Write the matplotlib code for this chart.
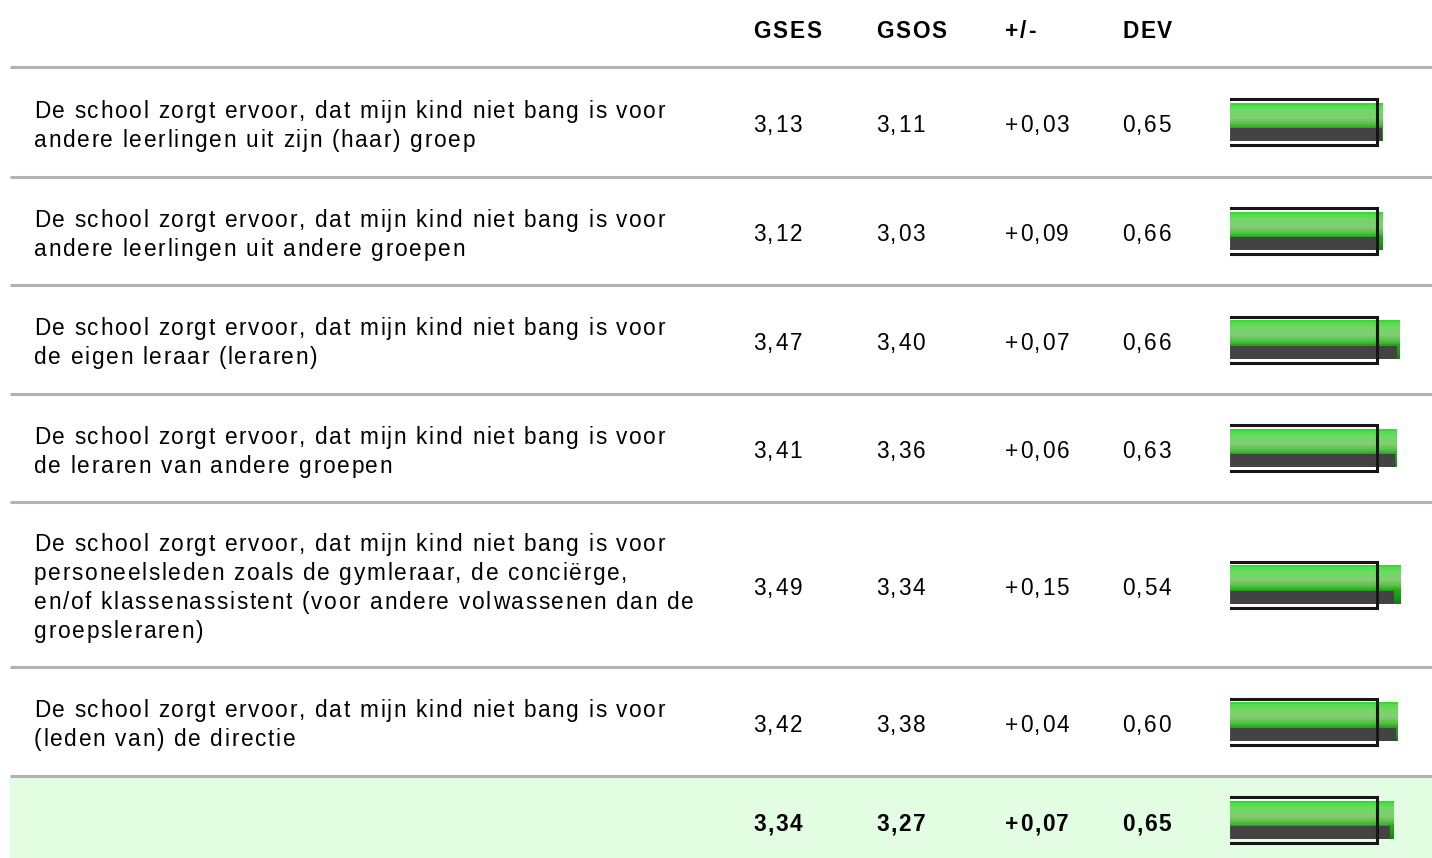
import matplotlib
matplotlib.use("Agg")
import numpy as np
import matplotlib.pyplot as plt
from matplotlib.patches import Rectangle
from matplotlib.font_manager import FontProperties, findfont, get_font
from matplotlib.colors import to_rgb

plt.rcParams['font.family'] = ['Liberation Sans', 'DejaVu Sans']

vragen = [
    "De school zorgt ervoor, dat mijn kind niet bang is voor\nandere leerlingen uit zijn (haar) groep",
    "De school zorgt ervoor, dat mijn kind niet bang is voor\nandere leerlingen uit andere groepen",
    "De school zorgt ervoor, dat mijn kind niet bang is voor\nde eigen leraar (leraren)",
    "De school zorgt ervoor, dat mijn kind niet bang is voor\nde leraren van andere groepen",
    "De school zorgt ervoor, dat mijn kind niet bang is voor\npersoneelsleden zoals de gymleraar, de conciërge,\nen/of klassenassistent (voor andere volwassenen dan de\ngroepsleraren)",
    "De school zorgt ervoor, dat mijn kind niet bang is voor\n(leden van) de directie",
]
gses = [3.13, 3.12, 3.47, 3.41, 3.49, 3.42]
gsos = [3.11, 3.03, 3.40, 3.36, 3.34, 3.38]
verschil = ["+0,03", "+0,09", "+0,07", "+0,06", "+0,15", "+0,04"]
dev = [0.65, 0.66, 0.66, 0.63, 0.54, 0.60]
totaal_gses = 3.34
totaal_gsos = 3.27
totaal_verschil = "+0,07"
totaal_dev = 0.65
kolommen = ["GSES", "GSOS", "+/-", "DEV"]
norm = 3.0

W, H = 1432, 858
fig = plt.figure(figsize=(W / 100, H / 100), dpi=100)
ax = fig.add_axes([0, 0, 1, 1])
ax.set_xlim(0, W)
ax.set_ylim(H, 0)
ax.axis('off')

fs = 16.3
fs_px = fs * 100 / 72
spacing = 1.7
regelafstand = 29


def spaced_text(x, yc, tekst, bold=False):
    """tekst met extra letterafstand, yc = visueel midden van het blok"""
    fp = FontProperties(family='Liberation Sans', weight='bold' if bold else 'normal')
    font = get_font(findfont(fp))
    font.set_size(fs, 100)
    regels = tekst.split('\n')
    n = len(regels)
    for r, regel in enumerate(regels):
        base = yc + (r - (n - 1) / 2) * regelafstand + 0.358 * fs_px
        xx = x
        for ch in regel:
            if ch != ' ':
                ax.text(xx, base, ch, fontproperties=fp, fontsize=fs,
                        va='baseline', ha='left')
            g = font.load_char(ord(ch))
            xx += g.linearHoriAdvance / 65536 + spacing


# rijgrenzen (pixels)
grenzen = [67, 177, 285, 394, 502, 667, 776]
centra = [(grenzen[i] + grenzen[i + 1]) / 2 for i in range(6)]
kol_x = [753, 876, 1005, 1122]

ax.add_patch(Rectangle((10, 777), W - 10, 81, color='#e3fde3', zorder=0))
for g in grenzen:
    ax.plot([10, W], [g, g], color='#b2b2b2', lw=2.2, solid_capstyle='butt')

for x, k in zip(kol_x, kolommen):
    spaced_text(x, 30, k, bold=True)


def fmt(v):
    return f"{v:.2f}".replace('.', ',')


for i, q in enumerate(vragen):
    y = centra[i] + 2
    spaced_text(34, y, q)
    for x, t in zip(kol_x, [fmt(gses[i]), fmt(gsos[i]), verschil[i], fmt(dev[i])]):
        spaced_text(x, y, t)

for x, t in zip(kol_x, [fmt(totaal_gses), fmt(totaal_gsos), totaal_verschil, fmt(totaal_dev)]):
    spaced_text(x, 823, t, bold=True)

# balken
scale = 49.0
bx = fig.add_axes([1230 / W, 0, (W - 1230) / W, 1])
bx.set_xlim(0, (W - 1230) / scale)
bx.set_ylim(H, 0)
bx.axis('off')

stops = [0.0, 0.06, 0.2, 0.4, 0.55, 0.66, 0.85, 1.0]
kleuren = ['#2ccf2c', '#4ede48', '#72d866', '#82cc72', '#52c244', '#22a814', '#159a0e', '#0a880a']
rgb = np.array([to_rgb(c) for c in kleuren])
n_strip = 19
pos = (np.arange(n_strip) + 0.5) / n_strip
groen = [tuple(np.interp(p, stops, rgb[:, k]) for k in range(3)) for p in pos]

alle_gses = gses + [totaal_gses]
alle_gsos = gsos + [totaal_gsos]
centra_bar = centra + [820]
for yc, a, b in zip(centra_bar, alle_gses, alle_gsos):
    top = yc - 19
    h = 38 / n_strip
    for j, c in enumerate(groen):
        bx.barh(top + h * (j + 0.5), a, height=h + 0.3, color=c, lw=0)
    bx.barh(yc + 12.5, b, height=13, color='#434343', lw=0)
    bx.add_patch(Rectangle((-1 / scale, yc - 21.5), norm + 1 / scale, 43,
                           fill=False, ec='white', lw=0.8))
    bx.add_patch(Rectangle((-2 / scale, yc - 23), norm + 2 / scale, 46,
                           fill=False, ec='#161616', lw=2.2))

fig.savefig('out.png', dpi=100)
